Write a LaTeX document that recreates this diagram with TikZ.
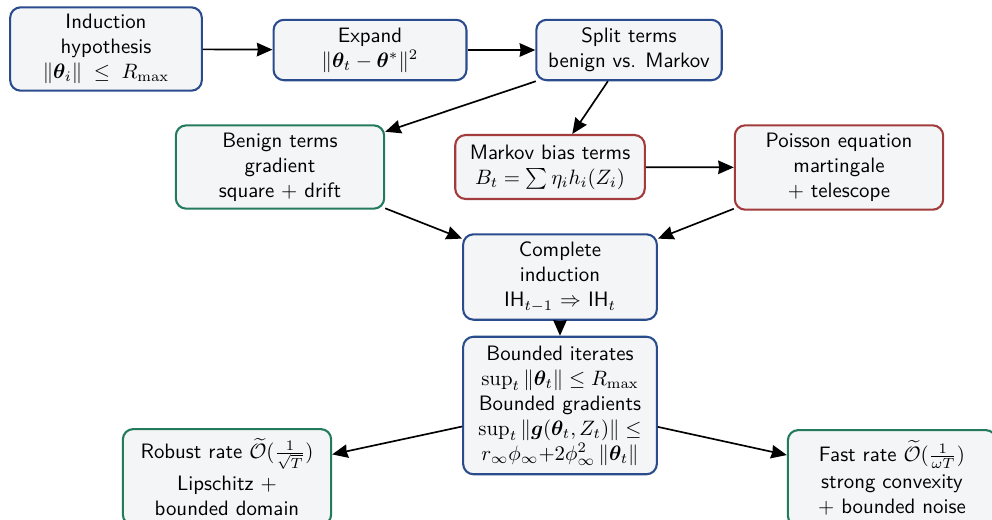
\documentclass[tikz,border=0pt]{standalone}
\usepackage{amsmath,amssymb,bm}
\usetikzlibrary{arrows.meta}
\definecolor{bblue}{HTML}{2B4C8C}
\definecolor{bgreen}{HTML}{237A5C}
\definecolor{bred}{HTML}{A23B3B}
\definecolor{bfill}{HTML}{F4F5F7}
\tikzset{
  box/.style={draw, line width=1pt, rounded corners=5pt, fill=bfill, align=center,
    font=\sffamily, inner sep=3pt},
  bluebox/.style={box, draw=bblue},
  greenbox/.style={box, draw=bgreen},
  redbox/.style={box, draw=bred},
  conn/.style={-{Stealth[length=7.5pt,width=6.5pt,inset=0.5pt]}, line width=0.8pt},
}
\begin{document}
\begin{tikzpicture}[x=0.48pt,y=-0.48pt]
\useasboundingbox (0,0) rectangle (992,519);
\node[bluebox, minimum width=92pt, minimum height=40pt] (ind) at (106,49)
  {Induction\\hypothesis\\$\|\bm{\theta}_i\|\;\le\;R_{\max}$};
\node[bluebox, minimum width=92.6pt, minimum height=29pt] (exp) at (370,50)
  {Expand\\$\|\bm{\theta}_t-\bm{\theta}^*\|^2$};
\node[bluebox, minimum width=89pt, minimum height=29pt] (spl) at (629,50)
  {Split terms\\benign vs. Markov};
\node[greenbox, minimum width=100pt, minimum height=40pt] (ben) at (280,167)
  {Benign terms\\gradient\\square $+$ drift};
\node[redbox, minimum width=91pt, minimum height=30.7pt] (mar) at (550,167)
  {Markov bias terms\\$B_t=\sum\eta_i h_i(Z_i)$};
\node[redbox, minimum width=100pt, minimum height=40.5pt] (poi) at (839,167.5)
  {Poisson equation\\martingale\\$+$ telescope};
\node[bluebox, minimum width=93pt, minimum height=41pt] (com) at (560,277)
  {Complete\\induction\\IH$_{t-1}$ $\Rightarrow$ IH$_t$};
\node[bluebox, minimum width=93pt, minimum height=66pt, inner sep=2pt] (bnd) at (560,405.5)
  {Bounded iterates\\$\sup_t\|\bm{\theta}_t\|\le R_{\max}$\\Bounded gradients\\$\sup_t\|\bm{g}(\bm{\theta}_t,Z_t)\|\le$\\$r_\infty\phi_\infty{+}2\phi_\infty^2\,\|\bm{\theta}_t\|$};
\node[greenbox, minimum width=100pt, minimum height=46pt] (rob) at (227,477)
  {Robust rate $\widetilde{\mathcal{O}}(\frac{1}{\sqrt{T}})$\\[2pt]Lipschitz $+$\\bounded domain};
\node[greenbox, minimum width=100pt, minimum height=46pt] (fst) at (892,478)
  {Fast rate $\widetilde{\mathcal{O}}(\frac{1}{\omega T})$\\[1pt]strong convexity\\$+$ bounded noise};
\draw[conn] (ind) -- (exp);
\draw[conn] (exp) -- (spl);
\draw[conn] (spl) -- (ben);
\draw[conn] (spl) -- (mar);
\draw[conn] (mar) -- (poi);
\draw[conn] (ben) -- (com);
\draw[conn] (poi) -- (com);
\draw[conn] (com) -- (bnd);
\draw[conn] (bnd) -- (rob);
\draw[conn] (bnd) -- (fst);
\end{tikzpicture}
\end{document}
